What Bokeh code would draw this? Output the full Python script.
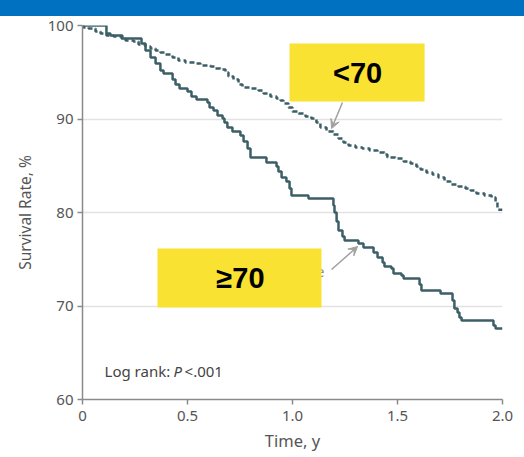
from bokeh.plotting import figure
from bokeh.models import (Range1d, BoxAnnotation, Label, Arrow, VeeHead,
                          FixedTicker)
from bokeh.embed import file_html
from bokeh.resources import INLINE

# ---- data ----
old_t = [0, 0.114, 0.133, 0.190, 0.281, 0.300, 0.324, 0.348, 0.371, 0.386,
         0.429, 0.443, 0.462, 0.500, 0.519, 0.543, 0.595, 0.605, 0.624, 0.643,
         0.667, 0.676, 0.690, 0.714, 0.752, 0.767, 0.786, 0.800, 0.876, 0.924,
         0.933, 0.948, 0.971, 0.986, 0.995, 1.076, 1.195, 1.200, 1.210, 1.219,
         1.238, 1.248, 1.314, 1.338, 1.386, 1.405, 1.429, 1.438, 1.471, 1.481,
         1.519, 1.529, 1.605, 1.614, 1.705, 1.762, 1.771, 1.786, 1.795, 1.805,
         1.957, 1.967, 2.0]
old_s = [100, 99.14, 98.93, 98.61, 98.07, 97.33, 96.58, 95.94, 95.19, 94.87,
         94.22, 93.69, 93.26, 92.94, 92.41, 92.09, 91.76, 91.23, 90.91, 90.37,
         90.05, 89.63, 89.09, 88.66, 88.24, 87.59, 86.84, 85.88, 85.35, 84.92,
         84.39, 83.74, 83.32, 82.57, 81.82, 81.50, 80.75, 80.00, 79.04, 78.07,
         77.43, 77.01, 76.68, 76.26, 75.72, 75.19, 74.65, 74.22, 74.01, 73.48,
         73.26, 72.94, 72.30, 71.66, 71.34, 70.59, 69.73, 69.30, 68.77, 68.45,
         67.91, 67.59, 67.59]

young_t = [0, 0.005, 0.029, 0.062, 0.086, 0.114, 0.148, 0.186, 0.205, 0.243,
           0.267, 0.300, 0.324, 0.348, 0.371, 0.395, 0.429, 0.457, 0.490, 0.538,
           0.562, 0.610, 0.633, 0.657, 0.681, 0.695, 0.719, 0.743, 0.762, 0.800,
           0.838, 0.862, 0.895, 0.924, 0.943, 0.957, 0.981, 1.000, 1.029, 1.062,
           1.090, 1.114, 1.133, 1.162, 1.195, 1.219, 1.243, 1.267, 1.300, 1.333,
           1.367, 1.405, 1.438, 1.452, 1.490, 1.529, 1.562, 1.590, 1.610, 1.638,
           1.667, 1.695, 1.724, 1.752, 1.790, 1.824, 1.848, 1.876, 1.914, 1.948,
           1.967, 1.976, 2.0]
young_s = [100, 99.79, 99.68, 99.36, 99.14, 98.93, 98.82, 98.61, 98.40, 98.29,
           97.97, 97.75, 97.54, 97.33, 97.11, 96.90, 96.58, 96.26, 96.04, 95.94,
           95.72, 95.61, 95.40, 95.29, 94.97, 94.55, 94.22, 93.69, 93.37, 93.26,
           93.05, 92.73, 92.41, 92.19, 91.98, 91.66, 91.23, 90.80, 90.59, 90.27,
           90.05, 89.63, 89.09, 88.66, 88.34, 87.91, 87.49, 87.17, 86.95, 86.84,
           86.63, 86.42, 86.20, 85.88, 85.78, 85.45, 85.24, 84.92, 84.60, 84.28,
           84.06, 83.74, 83.32, 82.99, 82.78, 82.57, 82.35, 82.03, 81.82, 81.60,
           81.07, 80.30, 80.30]

x_ticks = [0, 0.5, 1.0, 1.5, 2.0]
x_tick_labels = ["0", "0.5", "1.0", "1.5", "2.0"]
y_ticks = [60, 70, 80, 90, 100]

FONT = "Noto Sans"
GREY_TXT = "#555555"
LINE_COL = "#3c5f67"
YELLOW = "#f9e231"

p = figure(width=524, height=457, output_backend="svg", toolbar_location=None,
           x_range=Range1d(0, 2.0), y_range=Range1d(60, 100),
           min_border_left=82, min_border_right=22, min_border_top=25,
           min_border_bottom=58)
p.outline_line_color = None
p.background_fill_color = "white"
p.border_fill_color = None
# blue header band behind the (transparent) canvas border
p.styles = {"background": "linear-gradient(to bottom, #0070c0 0px, #0070c0 16px, #ffffff 16px, #ffffff 100%)"}

# grid
p.xgrid.grid_line_color = None
p.ygrid.grid_line_color = "#e2e2e2"
p.ygrid.grid_line_width = 1.5
p.ygrid.ticker = FixedTicker(ticks=y_ticks)

# axes
for ax in (p.xaxis[0], p.yaxis[0]):
    ax.axis_line_color = "#8a8a8a"
    ax.axis_line_width = 1.5
    ax.major_tick_line_color = "#8a8a8a"
    ax.major_tick_line_width = 1.5
    ax.major_tick_in = 0
    ax.major_tick_out = 5
    ax.minor_tick_line_color = None
    ax.major_label_text_font = FONT
    ax.major_label_text_font_size = "15px"
    ax.major_label_text_color = GREY_TXT
    ax.axis_label_text_font = FONT
    ax.axis_label_text_font_style = "normal"
    ax.axis_label_text_color = GREY_TXT

p.xaxis.axis_label_text_font_size = "16.5px"
p.yaxis.axis_label_text_font_size = "15.5px"
p.xaxis.ticker = FixedTicker(ticks=x_ticks)
p.xaxis.major_label_overrides = {t: l for t, l in zip(x_ticks, x_tick_labels)}
p.yaxis.ticker = FixedTicker(ticks=y_ticks)
p.xaxis.axis_label = "Time, y"
p.yaxis.axis_label = "Survival Rate, %"
p.xaxis.major_label_standoff = 6
p.yaxis.major_label_standoff = 4
p.xaxis.axis_label_standoff = 5
p.yaxis.axis_label_standoff = 9

# curves
p.step(young_t, young_s, mode="after", line_color=LINE_COL, line_width=2.5,
       line_dash="5 3")
p.step(old_t, old_s, mode="after", line_color=LINE_COL, line_width=2.5)

# partially hidden label remnant
p.add_layout(Label(x=1.133, y=73.6, text="e", text_font=FONT,
                   text_font_size="14px", text_color="#888888",
                   text_align="center", text_baseline="middle"))

# arrows
p.add_layout(Arrow(x_start=1.238, y_start=91.76, x_end=1.186, y_end=88.98,
                   line_color="#a0a0a0", line_width=1.5,
                   end=VeeHead(size=9, line_color="#a0a0a0", fill_color="#a0a0a0")))
p.add_layout(Arrow(x_start=1.186, y_start=73.9, x_end=1.31, y_end=76.36,
                   line_color="#a0a0a0", line_width=1.5,
                   end=VeeHead(size=9, line_color="#a0a0a0", fill_color="#a0a0a0")))

# yellow label boxes
p.add_layout(BoxAnnotation(left=0.986, right=1.629, top=98.07, bottom=91.87,
                           fill_color=YELLOW, fill_alpha=1, line_color=None))
p.add_layout(BoxAnnotation(left=0.357, right=1.138, top=76.15, bottom=69.84,
                           fill_color=YELLOW, fill_alpha=1, line_color=None))
p.add_layout(Label(x=1.31, y=94.9, text="<70", text_font="Liberation Sans",
                   text_font_style="bold", text_font_size="29px",
                   text_color="black", text_align="center", text_baseline="middle"))
p.add_layout(Label(x=0.752, y=72.95, text="≥70", text_font="Liberation Sans",
                   text_font_style="bold", text_font_size="29px",
                   text_color="black", text_align="center", text_baseline="middle"))

# log rank text
LR_Y = 63.1
p.add_layout(Label(x=0.105, y=LR_Y, text="Log rank:", text_font=FONT,
                   text_font_size="15px", text_color="#444444",
                   text_baseline="middle"))
p.add_layout(Label(x=0.433, y=LR_Y, text="P", text_font=FONT,
                   text_font_style="italic", text_font_size="15px",
                   text_color="#444444", text_baseline="middle"))
p.add_layout(Label(x=0.486, y=LR_Y, text="<.001", text_font=FONT,
                   text_font_size="15px", text_color="#444444",
                   text_baseline="middle"))

open("out.html", "w").write(file_html(p, INLINE))
